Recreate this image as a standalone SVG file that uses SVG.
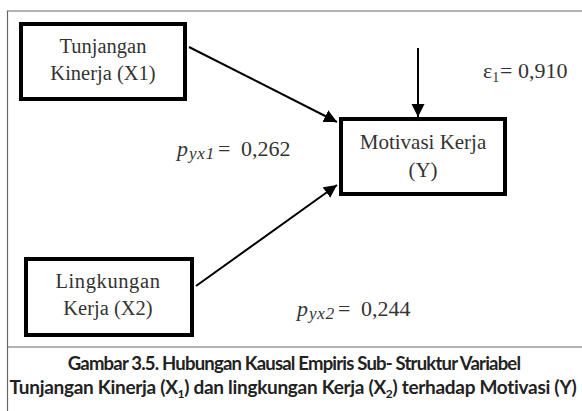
<svg xmlns="http://www.w3.org/2000/svg" width="582" height="411" viewBox="0 0 582 411">
<style>
.box{fill:#fff;stroke:#000;stroke-width:4}
.lbl{font-family:"Liberation Serif","Times New Roman",serif;font-size:20.5px;fill:#333;text-anchor:middle}
.coef{font-family:"Liberation Serif","Times New Roman",serif;font-size:22px;fill:#333}
.sub{font-size:17px;font-style:italic;letter-spacing:0.8px}
.it{font-style:italic}
.frame{stroke:#666;stroke-width:1.2;fill:none}
.edge{stroke:#000;stroke-width:2;fill:none;marker-end:url(#ah)}
.cap{font-family:Lato,"Liberation Sans",sans-serif;font-weight:bold;font-size:19px;letter-spacing:-0.3px;fill:#222;text-anchor:middle}
</style>
<defs>
<marker id="ah" markerUnits="userSpaceOnUse" markerWidth="14" markerHeight="14" viewBox="0 0 14 14" refX="13" refY="7" orient="auto">
<path d="M0,0.5 L13,7 L0,13.5 Z" fill="#000"/>
</marker>
</defs>
<rect width="582" height="411" fill="#fff"/>
<g id="frame">
<path class="frame" d="M582,11 H7.5 V411 M7.5,347 H582"/>
</g>
<g id="connectors">
<line class="edge" x1="189" y1="47" x2="337" y2="122"/>
<line class="edge" x1="196" y1="286" x2="337" y2="185"/>
<line class="edge" x1="418" y1="48" x2="418" y2="117"/>
</g>
<g id="x1">
<rect class="box" x="21" y="24" width="164" height="75"/>
<text class="lbl" x="103" y="53">Tunjangan</text>
<text class="lbl" x="103" y="80">Kinerja (X1)</text>
</g>
<g id="y">
<rect class="box" x="341" y="119" width="164" height="75"/>
<text class="lbl" x="423" y="149" style="font-size:21px">Motivasi Kerja</text>
<text class="lbl" x="423" y="177" style="font-size:21px">(Y)</text>
</g>
<g id="x2">
<rect class="box" x="26" y="259" width="166" height="76"/>
<text class="lbl" x="108" y="288" letter-spacing="0.6">Lingkungan</text>
<text class="lbl" x="108" y="315">Kerja (X2)</text>
</g>
<g id="coefs">
<text class="coef" x="483" y="78">ε<tspan font-size="14" dy="4">1</tspan><tspan dy="-4" x="500">=</tspan><tspan x="518">0,910</tspan></text>
<text class="coef" x="177" y="156"><tspan class="it">p</tspan><tspan class="sub" x="189" dy="3">yx1</tspan><tspan dy="-3" x="218">=</tspan><tspan x="241">0,262</tspan></text>
<text class="coef" x="297" y="316"><tspan class="it">p</tspan><tspan class="sub" x="309" dy="3">yx2</tspan><tspan dy="-3" x="338">=</tspan><tspan x="361">0,244</tspan></text>
</g>
<g id="caption">
<text class="cap" x="294" y="370" style="font-size:18.5px;letter-spacing:-0.8px">Gambar 3.5. Hubungan Kausal Empiris Sub- Struktur Variabel</text>
<text class="cap" x="293" y="394">Tunjangan Kinerja (X<tspan font-size="12" dy="4">1</tspan><tspan dy="-4">) dan lingkungan Kerja (X</tspan><tspan font-size="12" dy="4">2</tspan><tspan dy="-4">) terhadap Motivasi  (Y)</tspan></text>
</g>
</svg>
